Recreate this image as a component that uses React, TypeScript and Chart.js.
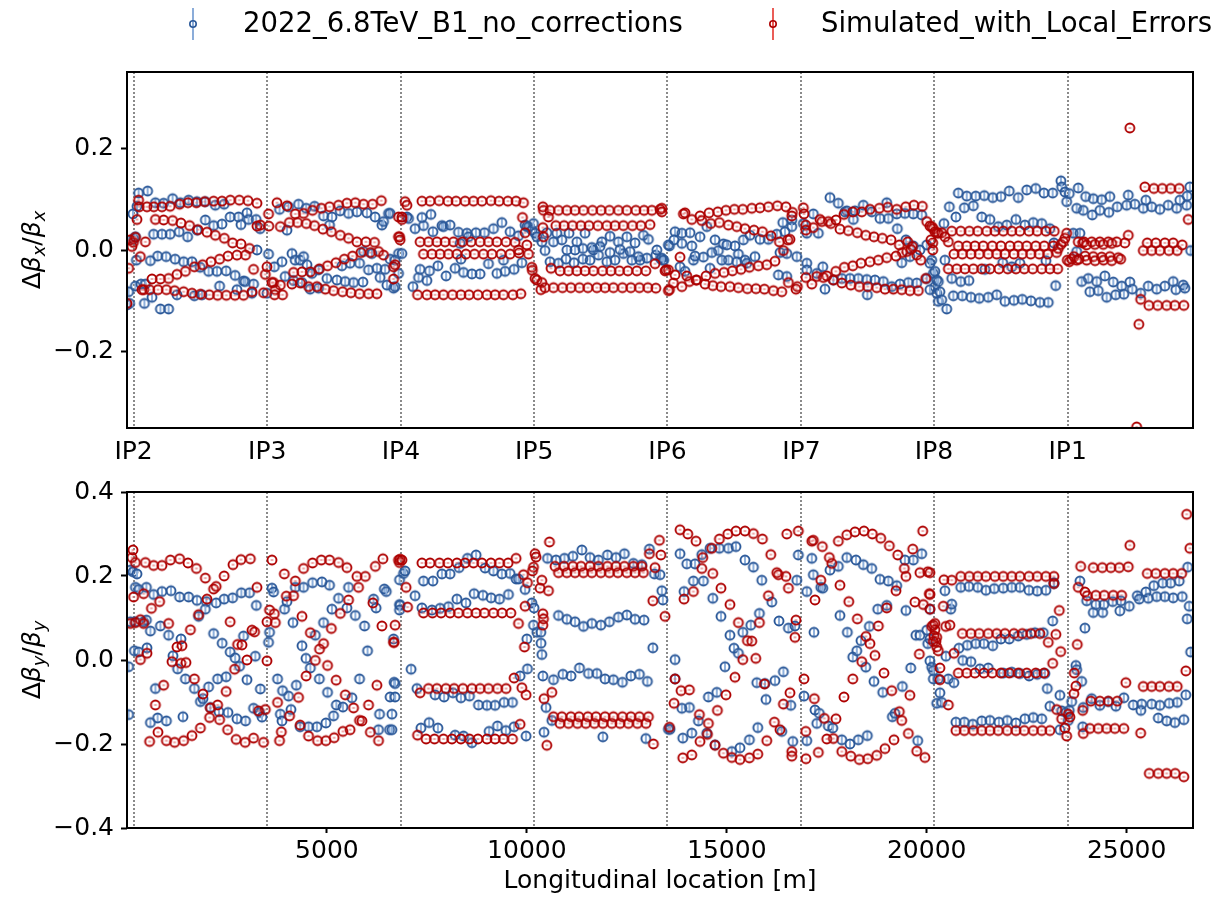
import React, { useEffect, useRef } from 'react';
import { Chart, registerables } from 'chart.js';
Chart.register(...registerables);

const FONT = "'DejaVu Sans', sans-serif";
const RING_LENGTH = 26659;
const IP_POSITIONS = [165, 3507, 6850, 10183, 13516, 16866, 20182, 23524];
const IP_LABELS = ['IP2', 'IP3', 'IP4', 'IP5', 'IP6', 'IP7', 'IP8', 'IP1'];
const X_TICKS = [5000, 10000, 15000, 20000, 25000];
const TOP_Y_TICKS = [-0.2, 0, 0.2];
const BOTTOM_Y_TICKS = [-0.4, -0.2, 0, 0.2, 0.4];
const SERIES_NAMES = ['2022_6.8TeV_B1_no_corrections', 'Simulated_with_Local_Errors'];
const X_TITLE = 'Longitudinal location [m]';

// Δβx/βx : measurement
const TOP_MEAS: number[][] = [
  [0,-0.108],[40,-0.082],[65,-0.105],[150,0.071],[165,0.022],[210,0.026],[250,0.086],[290,0.112],[515,0.116],[235,-0.020],[210,-0.071],[350,-0.067],[460,-0.067],[435,-0.105],[625,-0.093],[835,-0.116],[1040,-0.116],
  [710,0.093],[915,0.092],[1140,0.101],[1335,0.093],[1540,0.098],[1750,0.095],[1960,0.095],[2210,0.088],[2430,0.090],
  [665,0.031],[875,0.031],[1080,0.031],[1305,0.036],[1515,0.026],[1750,0.039],[1960,0.059],[2165,0.048],[2375,0.051],[2580,0.065],[2790,0.065],[3000,0.073],[2850,0.050],[3040,0.060],[3230,0.060],[3330,0.042],
  [585,-0.021],[765,-0.012],[980,-0.013],[1205,-0.018],[1415,-0.023],[1625,-0.023],[1830,-0.034],[2040,-0.042],[2250,-0.042],[2480,-0.041],[2705,-0.050],[2915,-0.061],[2955,-0.062],[3165,-0.067],[3250,0.000],
  [2315,-0.071],[2750,-0.078],[3125,-0.085],[3500,-0.085],[1250,-0.088],[1685,-0.090],[1875,-0.088],
  [3540,-0.008],[3685,-0.033],[3815,0.080],[4000,0.039],[3875,-0.023],[3955,-0.052],[4040,0.085],[4125,-0.007],[4205,-0.020],[4330,-0.020],[4415,-0.013],[4500,-0.029],[4290,0.090],[4480,0.082],[4690,0.086],[4915,0.067],[5125,0.065],[5065,0.049],[5330,0.077],[5540,0.072],[5750,0.075],[6000,0.073],[6205,0.065],[6375,0.049],[6415,0.056],[6540,0.072],
  [4625,-0.046],[4790,-0.039],[5000,-0.056],[5250,-0.059],[5455,-0.062],[5665,-0.064],[5900,-0.063],[4165,-0.060],[4375,-0.064],[4580,-0.077],[4790,-0.075],[5375,-0.031],[5580,-0.026],[5815,-0.026],[6040,-0.039],[6250,-0.036],[6455,-0.038],[5915,-0.003],[6125,-0.007],[6330,-0.054],[6500,-0.069],[6665,-0.075],[6580,-0.018],[6705,-0.020],[6790,-0.007],
  [6580,0.072],[6875,-0.007],[6790,-0.046],[6705,-0.072],[7000,0.065],[7040,0.062],
  [7205,0.042],[7415,0.048],[7375,0.064],[7600,0.070],[7650,0.036],[7875,0.048],[8080,0.049],[8290,0.035],[8500,0.033],[8725,0.034],[8940,0.034],[9165,0.042],[9375,0.054],[9580,0.036],[9790,0.028],[10000,0.046],[7915,0.046],[8330,0.013],[8540,0.026],
  [7150,-0.072],[7290,-0.054],[7330,-0.038],[7500,-0.060],[7565,-0.041],[7775,-0.031],[7980,-0.051],[8205,-0.036],[8350,-0.018],[8415,-0.044],[8625,-0.047],[8830,-0.047],[9040,-0.027],[9250,-0.046],[9455,-0.042],[9680,-0.038],[9875,-0.025],[9415,-0.020],
  [9955,0.049],[10040,0.046],[10125,0.039],[10205,0.033],[10250,0.026],[10165,0.052],[10455,-0.001],[10375,0.016],
  [10500,0.034],[10665,0.016],[10875,0.020],[11055,0.033],[11250,0.016],[11455,0.033],[11665,0.000],[11875,0.016],[12080,0.027],[12290,0.016],[12500,0.026],[12705,0.014],[12915,0.029],[13040,0.021],
  [10580,-0.023],[10790,-0.026],[10980,-0.018],[11180,-0.025],[11400,-0.018],[11580,-0.020],[11790,-0.010],[12000,-0.023],[12205,-0.020],[12415,-0.007],[12625,-0.020],[12830,-0.020],[13225,-0.010],[13350,-0.018],[13415,-0.020],[13565,0.008],
  [11000,0.000],[11205,0.000],[11400,0.003],[11625,0.005],[11830,0.007],[12080,-0.005],[12330,0.001],[12580,-0.003],[12790,-0.013],[13000,-0.016],[13250,0.000],[10750,0.033],
  [13375,-0.016],[13415,-0.020],[13540,0.010],[13705,0.036],[13875,0.033],[14080,0.034],[13680,0.020],[13875,0.013],[14125,0.008],[14330,0.026],[14500,0.046],[13830,-0.033],[13955,-0.042],[14165,-0.020],[14205,-0.012],[14415,-0.014],[14580,-0.036],[14705,0.020],[14625,-0.005],[14790,-0.001],[14915,0.012],[15000,0.010],[14875,-0.020],[15040,-0.020],[15205,0.008],[15290,-0.008],[15250,-0.023],[15415,0.020],[15455,-0.020],[15580,0.029],[15705,-0.013],[15830,0.021],[16040,0.021],[16250,0.031],[16400,0.054],[16455,0.036],[16625,0.059],[16625,0.046],[16500,-0.007],[16330,-0.005],[16290,-0.049],[16500,-0.052],[15500,-0.026],[16750,-0.013],
  [16915,0.052],[17000,0.033],[17000,-0.026],[17000,-0.039],[17165,0.071],[17290,0.033],[17400,-0.033],[17455,-0.077],[17250,-0.046],[17580,0.103],[17790,0.092],[17955,0.075],[18165,0.060],[18000,0.077],[18205,0.077],[18415,0.088],[18625,0.075],[18830,0.062],[19000,0.093],[19040,0.062],[19250,0.071],[19455,0.072],[19665,0.071],[19875,0.069],[19265,0.042],[19480,0.020],[19580,-0.013],[19665,0.008],[19375,-0.025],[19830,0.000],[20000,0.010],
  [17665,-0.059],[17875,-0.056],[18080,-0.056],[18290,-0.056],[18500,-0.058],[18705,-0.059],[18915,-0.062],[19125,-0.072],[19330,-0.067],[19540,-0.064],[19750,-0.065],[18515,-0.088],[20125,-0.020],[20165,-0.046],[20205,-0.072],[20250,-0.085],[20290,-0.101],[20000,-0.056],[20080,-0.078],
  [20080,-0.026],[20250,-0.059],[20330,-0.082],[20375,-0.098],[20500,-0.116],[20455,-0.020],[20205,-0.042],[20290,-0.062],[20430,0.052],
  [20565,0.085],[20730,0.065],[20790,0.112],[20940,0.083],[21000,0.106],[21165,0.087],[21225,0.106],[21440,0.107],[21650,0.103],[21855,0.105],[22065,0.116],[22290,0.103],[22500,0.118],[22725,0.121],[22930,0.112],[23150,0.112],[23355,0.136],[23375,0.124],[23455,0.114],[23500,0.095],[23565,0.111],[23790,0.122],[23750,0.082],[23915,0.078],[23975,0.105],[24165,0.101],[24140,0.069],[24375,0.099],[24330,0.078],[24580,0.105],[24555,0.074],[24765,0.085],[25040,0.108],[25000,0.088],[25205,0.090],[25415,0.082],[25480,0.098],[25625,0.085],[25830,0.080],[26040,0.088],[26250,0.082],[26330,0.098],[26500,0.088],[26580,0.124],[26515,0.106],
  [21375,0.065],[21580,0.060],[21790,0.046],[22000,0.049],[22230,0.060],[22455,0.049],[22665,0.054],[22875,0.052],[23080,0.042],[23180,0.014],[23665,0.033],[23830,0.033],[23750,-0.003],[21900,-0.025],[22125,-0.033],[22330,-0.026],[21455,-0.038],[22980,-0.021],
  [20625,-0.056],[20850,-0.062],[21055,-0.060],[20665,-0.090],[20890,-0.090],[21105,-0.093],[21315,-0.095],[21540,-0.093],[21750,-0.088],[21955,-0.101],[22180,-0.099],[22390,-0.097],[22605,-0.100],[22830,-0.103],[23040,-0.103],[23225,-0.070],
  [23875,-0.062],[24040,-0.056],[24080,-0.082],[24250,-0.062],[24290,-0.080],[24455,-0.051],[24500,-0.093],[24665,-0.063],[24725,-0.088],[24875,-0.071],[24930,-0.087],[25080,-0.063],[25140,-0.077],[25350,-0.085],[25540,-0.071],[25750,-0.077],[25955,-0.071],[26165,-0.062],[26230,-0.078],[26415,-0.069],[26455,-0.075],[26600,-0.001],
];

// Δβx/βx : simulation
const TOP_SIM: number[][] = [
  [0,-0.105],[40,-0.036],[80,0.020],[125,0.007],[160,0.015],[210,0.025],[250,0.060],[290,0.098],[305,0.085],[333,-0.013],[375,-0.078],[420,-0.078],[460,0.016],
  [500,0.085],[670,0.085],[875,0.085],[1080,0.086],[1315,0.090],[1525,0.093],[1735,0.093],[1940,0.095],[2165,0.096],[2375,0.096],[2585,0.098],[2810,0.098],[3025,0.097],[3250,0.092],
  [710,0.060],[915,0.059],[1140,0.058],[1350,0.053],[1565,0.048],[1775,0.040],[2000,0.035],[2210,0.029],[2435,0.023],[2640,0.014],[2850,0.012],[3065,0.003],
  [625,-0.057],[835,-0.057],[1040,-0.056],[1250,-0.048],[1460,-0.042],[1685,-0.033],[1890,-0.029],[2100,-0.023],[2315,-0.018],[2525,-0.012],[2750,-0.010],[2965,-0.010],
  [565,-0.078],[775,-0.078],[985,-0.078],[1190,-0.080],[1415,-0.082],[1625,-0.085],[1835,-0.087],[2060,-0.088],[2265,-0.089],[2485,-0.089],[2700,-0.089],[2915,-0.089],[3125,-0.082],[3415,-0.084],
  [3165,-0.038],[3250,0.047],[3335,0.049],[3540,0.071],[3500,-0.033],[3460,-0.048],[3545,0.047],[3665,-0.064],[3710,-0.078],[3690,-0.088],[3890,-0.088],
  [3750,0.093],[4000,0.087],[4210,0.071],[4415,0.072],[4640,0.078],[4860,0.082],[5065,0.085],[5290,0.088],[5500,0.092],[5710,0.093],[5915,0.090],[6140,0.090],[6360,0.097],
  [3835,0.046],[4060,0.054],[4265,0.054],[4485,0.052],[4690,0.048],[4900,0.041],[5110,0.036],[5335,0.029],[5540,0.023],[5750,0.016],[5975,0.016],[6190,0.015],[6415,-0.010],
  [4165,-0.044],[4375,-0.043],[4585,-0.043],[4810,-0.037],[5015,-0.031],[5225,-0.025],[5435,-0.018],[5640,-0.012],[5850,-0.005],[6085,-0.005],[6290,-0.003],
  [3625,-0.064],[3835,-0.069],[4125,-0.067],[4335,-0.065],[4540,-0.072],[4750,-0.072],[4960,-0.077],[5165,-0.080],[5390,-0.082],[5600,-0.084],[5815,-0.086],[6040,-0.086],[6250,-0.086],
  [6665,-0.033],[6665,-0.057],[6790,0.065],[6790,0.026],[6955,0.095],[7000,0.088],[6875,0.065],[6875,0.060],[6815,0.026],[6830,0.020],[6705,-0.029],
  [7375,0.096],[7580,0.096],[7805,0.097],[8025,0.096],[8230,0.096],[8455,0.096],[8665,0.096],[8875,0.096],[9100,0.097],[9305,0.096],[9525,0.096],[9730,0.096],[9915,0.093],
  [7330,0.016],[7540,0.016],[7750,0.016],[7955,0.016],[8165,0.016],[8390,0.016],[8605,0.016],[8830,0.016],[9040,0.016],[9250,0.016],[9480,0.016],[9705,0.015],
  [7415,-0.008],[7625,-0.008],[7830,-0.008],[8040,-0.008],[8250,-0.008],[8475,-0.008],[8690,-0.008],[8915,-0.008],[9125,-0.008],[9355,-0.008],[9580,-0.008],[9805,-0.006],
  [7265,-0.088],[7500,-0.088],[7705,-0.088],[7915,-0.088],[8140,-0.088],[8350,-0.088],[8555,-0.088],[8775,-0.088],[9000,-0.088],[9205,-0.088],[9415,-0.088],[9650,-0.088],[9850,-0.086],
  [9890,0.064],[9955,0.034],[10000,0.010],[10040,-0.008],[9790,0.000],[10125,-0.034],[10135,-0.040],[10205,-0.056],[10250,-0.059],[10375,-0.064],[10350,-0.078],[10400,0.044],[10415,0.026],[10400,0.085],[10415,0.078],[10540,0.065],[10605,-0.036],
  [10580,0.078],[10790,0.078],[11000,0.078],[11205,0.078],[11415,0.078],[11640,0.078],[11855,0.078],[12065,0.078],[12290,0.078],[12500,0.078],[12725,0.078],[12930,0.078],[13125,0.078],[13330,0.080],
  [10725,0.048],[10930,0.048],[11140,0.048],[11350,0.048],[11555,0.048],[11775,0.048],[12000,0.048],[12205,0.048],[12415,0.048],[12640,0.048],[12850,0.048],[13080,0.050],
  [10830,-0.041],[11040,-0.041],[11250,-0.041],[11455,-0.041],[11665,-0.041],[11890,-0.041],[12100,-0.041],[12315,-0.041],[12525,-0.041],[12750,-0.041],[12975,-0.041],[13205,-0.027],[13480,-0.039],
  [10455,-0.074],[10665,-0.074],[10890,-0.074],[11100,-0.074],[11315,-0.074],[11525,-0.074],[11750,-0.074],[11955,-0.074],[12165,-0.074],[12390,-0.074],[12600,-0.074],[12815,-0.074],[13025,-0.074],[13225,-0.075],[13540,-0.080],
  [13375,0.082],[13375,0.075],[13455,-0.041],[13565,-0.078],[13830,-0.014],[13705,-0.049],
  [13915,0.071],[13955,0.073],[14125,0.060],[14330,0.067],[14555,0.073],[14775,0.075],[14980,0.078],[15190,0.080],[15400,0.080],[15625,0.082],[15830,0.083],[16040,0.085],[16265,0.087],[16480,0.085],[16640,0.074],[16625,0.067],
  [14375,0.058],[14600,0.052],[14815,0.054],[15040,0.049],[15250,0.046],[15455,0.042],[15680,0.039],[15890,0.036],[16105,0.028],[16315,0.016],[16525,0.020],[16580,0.021],[16415,-0.001],[16205,-0.022],
  [14000,-0.051],[14250,-0.059],[14480,-0.051],[14705,-0.046],[14930,-0.044],[15140,-0.041],[15355,-0.038],[15565,-0.034],[15790,-0.031],[16000,-0.029],[13540,-0.039],
  [13665,-0.065],[13875,-0.072],[14065,-0.062],[14230,-0.059],[14455,-0.067],[14650,-0.070],[14855,-0.072],[15080,-0.072],[15290,-0.074],[15515,-0.076],[15730,-0.076],[15940,-0.077],[16165,-0.080],[16375,-0.082],[16540,-0.064],[16730,-0.077],[16765,-0.072],
  [16915,0.083],[16930,0.071],[16975,0.049],[16975,0.039],[17165,0.044],[17330,0.060],[17540,0.056],[17730,0.059],[17930,0.070],[18150,0.075],[18375,0.075],[18580,0.080],[18815,0.082],[19025,0.084],[19250,0.080],[19475,0.085],[19680,0.088],[19890,0.086],[20000,0.056],[20080,0.047],[20165,0.042],[20250,0.034],
  [17375,0.056],[17600,0.052],[17830,0.041],[18040,0.038],[18265,0.034],[18475,0.029],[18680,0.026],[18890,0.023],[19105,0.020],[19315,0.010],[19525,0.016],[19640,0.007],[19750,-0.010],[19850,-0.020],[19975,-0.056],
  [17250,-0.052],[17500,-0.051],[17725,-0.042],[17940,-0.034],[18150,-0.031],[18355,-0.026],[18580,-0.023],[18790,-0.020],[19000,-0.015],[19230,-0.012],[19390,-0.005],[19500,-0.003],[19605,0.001],
  [16980,-0.054],[17125,-0.067],[17415,-0.054],[17665,-0.059],[17875,-0.065],[18100,-0.069],[18315,-0.072],[18525,-0.072],[18750,-0.074],[18955,-0.077],[19165,-0.077],[19375,-0.078],[19580,-0.080],[19790,-0.080],
  [20125,0.046],[20205,0.036],[20290,0.033],[20375,0.034],[20455,0.026],[20540,0.016],[20150,0.014],[20150,0.000],[20105,0.020],
  [20625,0.037],[20850,0.037],[21065,0.037],[21275,0.037],[21500,0.037],[21705,0.037],[21915,0.037],[22125,0.037],[22330,0.037],[22555,0.037],[22765,0.037],[22980,0.037],[23190,0.037],
  [20790,0.008],[21000,0.008],[21205,0.008],[21415,0.008],[21640,0.008],[21855,0.008],[22080,0.008],[22290,0.008],[22500,0.008],[22725,0.008],[22940,0.008],[23165,0.008],
  [20680,-0.008],[20890,-0.008],[21105,-0.008],[21315,-0.008],[21540,-0.008],[21750,-0.008],[21955,-0.008],[22180,-0.008],[22390,-0.008],[22600,-0.008],[22815,-0.008],[23025,-0.008],
  [20540,-0.037],[20750,-0.037],[20955,-0.037],[21165,-0.037],[21375,-0.037],[21580,-0.037],[21805,-0.037],[22025,-0.037],[22230,-0.037],[22440,-0.037],[22650,-0.037],[22875,-0.037],[23080,-0.037],[23275,-0.037],
  [23250,-0.005],[23290,0.003],[23355,0.011],[23415,0.016],[23455,0.023],[23500,0.033],[23515,-0.020],[23565,-0.023],[23625,-0.018],[23680,-0.013],[23750,-0.020],[23790,0.016],[23900,0.014],
  [23930,0.016],[24125,0.016],[24330,0.016],[24540,0.016],[24750,0.016],[24955,0.014],[25040,0.029],
  [23995,0.010],[24205,0.011],[24415,0.011],[24625,0.013],
  [23960,-0.012],[24165,-0.013],[24375,-0.014],[24580,-0.013],[24790,-0.015],
  [23805,-0.018],[24000,-0.020],[24210,-0.021],[24420,-0.020],[24625,-0.021],[24850,-0.018],
  [25515,0.014],[25730,0.014],[25955,0.014],[26165,0.014],[26390,0.010],
  [25415,-0.001],[25625,-0.001],[25830,-0.001],[26055,-0.001],[26265,-0.001],
  [25455,0.124],[25680,0.121],[25890,0.121],[26100,0.121],[26315,0.121],
  [25555,-0.109],[25775,-0.109],[26000,-0.109],[26205,-0.109],[26430,-0.109],
  [25080,0.240],[25305,-0.146],[25250,-0.348],[25350,-0.097],[26540,0.060],
];

// Δβy/βy : measurement
const BOTTOM_MEAS: number[][] = [
  [85,0.214],[150,0.210],[250,0.205],[210,0.173],[290,0.168],[485,0.173],[210,0.091],[85,0.091],[415,0.091],[485,0.095],[185,0.022],[290,0.019],[500,0.029],[40,-0.016],[40,-0.130],[585,0.069],[710,-0.068],[585,-0.149],[765,-0.138],[985,-0.145],[835,0.081],
  [665,0.156],[875,0.163],[1100,0.165],[1315,0.150],[1540,0.150],[1750,0.142],[1985,0.139],[2230,0.136],[2430,0.145],[2640,0.148],[2860,0.160],[3065,0.160],[3235,0.130],[1960,0.121],[1790,0.104],
  [1040,0.059],[1150,0.010],[1265,-0.021],[1350,0.050],[1460,-0.045],[1685,-0.068],[1835,-0.099],[1900,-0.092],[2040,-0.064],[2265,-0.045],[2480,-0.040],[2165,0.063],[2380,0.040],[2580,0.019],[2705,0.005],[2815,-0.015],[2915,0.057],[3000,-0.047],[3210,0.009],[3335,-0.069],
  [1400,-0.135],[2085,-0.113],[2300,-0.123],[2525,-0.125],[2750,-0.140],[2965,-0.145],[3165,-0.115],[3315,-0.125],[3375,-0.136],
  [3625,0.171],[3665,0.162],[3565,0.066],[3540,0.042],[3765,-0.045],[3890,-0.073],[3835,-0.129],[3875,-0.145],[4040,-0.086],[4100,-0.118],[3940,0.121],[4000,0.139],[4150,0.089],[4210,0.173],[4235,-0.060],[4375,0.034],[4330,-0.159],[4415,0.173],[4475,0.004],[4585,-0.019],[4540,-0.159],[4640,0.184],[4710,0.059],[4750,-0.159],[4810,-0.045],[4875,0.186],[4915,0.089],[4975,-0.150],[5065,0.178],[5015,-0.077],[5165,-0.133],[5235,-0.107],[5125,0.121],[5290,0.147],[5400,-0.112],[5500,0.124],[5540,0.173],[5625,-0.090],[5710,0.106],[5815,-0.045],[5940,0.081],[6015,0.022],[6165,0.145],[6230,0.124],[6290,-0.166],[6565,-0.166],[6435,0.169],[6485,0.163],[6315,-0.129],[6580,-0.088],[6680,-0.053],[6665,0.050],[6815,0.191],[6815,0.132],
  [6915,0.206],[6955,0.212],[6830,0.130],[6815,0.119],[7205,0.153],[7105,-0.022],[6705,-0.056],[6705,-0.088],[6625,-0.129],[6625,-0.166],
  [7415,0.188],[7650,0.188],[7875,0.205],[8080,0.205],[8305,0.220],[8515,0.242],[8730,0.250],[8955,0.219],[9165,0.212],[9375,0.205],[9580,0.206],[9730,0.193],[9790,0.193],[9955,0.168],
  [7375,0.124],[7625,0.119],[7830,0.123],[8040,0.127],[8250,0.145],[8475,0.136],[8680,0.158],[8900,0.154],[9105,0.148],[9315,0.145],[9540,0.156],
  [7250,-0.068],[7705,-0.083],[7930,-0.088],[8150,-0.078],[8350,-0.090],[8565,-0.086],[8790,-0.107],[9000,-0.108],[9205,-0.108],[9430,-0.101],[9640,-0.101],[9830,-0.038],[10015,-0.021],[10000,0.050],
  [7350,-0.162],[7555,-0.149],[7775,-0.162],[8205,-0.179],[8415,-0.181],[8625,-0.197],[9055,-0.170],[9265,-0.157],[9475,-0.168],[9680,-0.159],[9980,-0.181],
  [10125,0.136],[10180,0.124],[10165,0.083],[10250,0.066],[10350,0.066],[10355,0.040],[10375,0.013],[10400,-0.038],[10665,-0.047],[10480,-0.113],[10430,-0.172],[10625,-0.144],
  [10515,0.242],[10730,0.238],[10940,0.242],[11150,0.247],[11375,0.262],[11580,0.244],[11790,0.238],[12015,0.250],[12230,0.244],[12440,0.253],[12665,0.230],[12875,0.227],
  [10790,0.106],[11000,0.097],[11205,0.091],[11415,0.080],[11625,0.087],[11850,0.083],[12065,0.091],[12290,0.102],[12500,0.107],[12705,0.097],[12930,0.095],
  [10900,-0.034],[11105,-0.038],[11315,-0.019],[11540,-0.032],[11750,-0.032],[11955,-0.045],[12165,-0.047],[12390,-0.053],[12600,-0.038],[12815,-0.034],[13015,-0.051],
  [11900,-0.183],[12975,-0.187],
  [13150,0.029],[13190,0.205],[13330,0.203],[13375,0.165],[13400,0.143],[13065,0.264],[13540,-0.165],
  [13580,-0.165],[13705,0.001],[13705,-0.045],[13830,0.253],[14000,0.229],[14205,0.229],[14165,0.188],[14415,0.188],[14375,0.251],[14580,0.266],[14815,0.266],[15040,0.266],[15230,0.270],[15455,0.238],[15665,0.221],[15875,0.190],[16125,0.138],[16305,0.093],[16540,0.076],[16705,0.081],[16790,0.250],[16750,0.190],[13930,0.163],[14650,0.147],[14855,0.104],[15080,0.059],[15180,0.028],[15290,0.016],[15400,0.066],[15600,0.083],[15815,0.111],[14955,-0.016],
  [14065,-0.113],[13875,-0.115],[14290,-0.145],[14125,-0.174],[13900,-0.186],[14540,-0.088],[14750,-0.077],[14500,-0.174],[14705,-0.202],[15125,-0.218],[15330,-0.209],[15565,-0.190],[15775,-0.161],[15980,-0.094],[15750,-0.054],[15955,-0.056],[16205,-0.049],[16415,-0.028],[16375,-0.170],[16600,-0.108],[16650,-0.194],
  [16930,-0.086],[17000,-0.192],[17000,0.163],[17125,0.242],[17165,0.203],[17350,0.173],[17400,0.171],[17580,0.214],[17790,0.223],[18000,0.244],[18230,0.238],[18415,0.227],[18625,0.218],[18830,0.192],[19040,0.188],[19250,0.177],[19455,0.238],[19665,0.238],[19875,0.253],
  [17180,0.066],[17205,-0.119],[17250,-0.151],[17315,-0.127],[17540,-0.157],[17650,-0.162],[17875,-0.190],[18080,-0.200],[18290,-0.190],[18515,-0.180],[17830,0.106],[18015,0.066],[18150,0.007],[18250,0.022],[18355,0.046],[18475,-0.017],[18565,0.080],[18680,-0.051],[18775,0.121],[18900,-0.077],[19000,0.130],[19140,-0.135],[19205,-0.127],[19390,-0.063],[19480,0.118],[19600,-0.019],[19730,0.059],[19775,-0.192],[19830,0.059],[20000,0.071],[20025,0.039],[20080,-0.002],[20125,-0.017],[20165,-0.045],[20250,-0.103],
  [20080,0.121],[20080,0.050],[20165,-0.025],[20290,-0.045],[20330,-0.078],[20375,-0.101],[20455,0.165],[20480,0.009],[20540,-0.045],[20600,0.121],[20625,0.133],[20680,-0.054],[20900,-0.001],[21105,-0.004],[21330,-0.021],[21540,-0.019],
  [20850,0.173],[21055,0.175],[21275,0.173],[21480,0.166],[21690,0.170],[21915,0.171],[22125,0.173],[22330,0.173],[22555,0.166],[22765,0.164],[22980,0.166],[23180,0.182],
  [20805,0.028],[21015,0.035],[21225,0.039],[21430,0.039],[21650,0.034],[21855,0.050],[22065,0.050],[22290,0.057],[22500,0.061],[22705,0.065],[22915,0.065],
  [21915,-0.031],[22125,-0.029],[22330,-0.032],[22560,-0.038],[22765,-0.034],[22955,-0.032],
  [20730,-0.148],[20940,-0.148],[21150,-0.153],[21375,-0.145],[21580,-0.144],[21805,-0.148],[22015,-0.144],[22230,-0.150],[22455,-0.140],[22665,-0.137],[22875,-0.140],
  [23015,-0.068],[23080,-0.110],[23150,0.093],[23180,0.184],[23330,-0.084],[23330,-0.166],[23375,-0.121],[23480,-0.125],[23540,-0.144],[23565,-0.120],[23625,-0.099],[23730,-0.013],[23750,-0.023],[23875,-0.051],[23900,-0.159],[23955,0.076],[23830,0.188],[24000,0.141],[24165,0.113],[24230,0.132],[24400,0.113],[24430,0.132],[24650,0.139],[24830,0.117],[24855,0.141],[25065,0.128],[25265,0.153],[25480,0.162],[25315,0.145],[25540,0.147],[25680,0.177],[25750,0.151],[25900,0.183],[25955,0.151],[26100,0.183],[26165,0.148],[26315,0.188],[26390,0.151],[26525,0.221],[26565,0.128],[26515,0.098],[26600,0.019],
  [24125,-0.092],[24330,-0.108],[24540,-0.099],[24730,-0.110],[24930,-0.090],[25165,-0.107],[25375,-0.105],[25625,-0.105],[25830,-0.108],[26065,-0.103],[26265,-0.101],[26480,-0.083],[23915,-0.113],[25355,-0.120],[25790,-0.138],[26000,-0.145],[26205,-0.149],[26430,-0.142],
];

// Δβy/βy : simulation
const BOTTOM_SIM: number[][] = [
  [150,0.262],[125,0.244],[210,0.232],[165,0.150],[85,0.087],[210,0.089],[335,0.096],[335,0.001],[415,0.158],[500,0.016],[415,0.087],
  [460,0.232],[665,0.225],[875,0.225],[1085,0.238],[1315,0.241],[1525,0.231],[1735,0.218],[1960,0.195],[2000,0.145],[2165,0.169],[2230,0.175],[2430,0.200],[2650,0.227],[2850,0.239],[3085,0.241],[3250,0.173],
  [610,0.123],[815,0.139],[1040,0.087],[1250,0.031],[1375,0.034],[1125,-0.004],[1350,-0.008],[1475,-0.006],[1585,0.072],[1790,0.108],
  [710,-0.107],[915,-0.060],[775,-0.172],[565,-0.194],[985,-0.192],[1190,-0.196],[1415,-0.192],[1625,-0.180],[1835,-0.162],[1685,-0.045],[1900,-0.081],[2085,-0.114],[2265,-0.107],[2065,-0.137],[2315,-0.142],[2515,-0.166],[2730,-0.189],[2955,-0.196],[3165,-0.186],[3415,-0.196],[2480,-0.075],[2690,-0.022],[2765,0.037],[2875,0.036],[3000,0.000],[2580,0.091],[3125,0.071],[3190,0.067],[3290,-0.121],[3460,-0.118],[3500,-0.002],
  [3625,0.238],[3500,0.091],[3565,0.119],[3685,0.110],[3710,0.089],[3765,-0.101],[3860,-0.171],[3815,-0.192],[3935,0.205],[3985,0.152],[4065,-0.133],[4165,0.153],[4210,0.188],[4290,-0.089],[4375,0.104],[4330,-0.155],[4415,0.218],[4480,-0.038],[4585,0.065],[4540,-0.181],[4640,0.231],[4710,-0.001],[4765,-0.192],[4815,0.026],[4915,0.039],[4860,0.238],[4975,-0.192],[5015,-0.013],[5065,0.238],[5110,0.075],[5180,-0.185],[5230,-0.048],[5290,0.232],[5335,0.111],[5400,-0.170],[5460,-0.083],[5500,0.220],[5540,0.143],[5580,-0.166],[5665,-0.114],[5750,0.199],[5815,-0.144],[5790,0.173],[5875,-0.145],[5960,0.199],[6040,-0.107],[6085,-0.172],[6150,0.136],[6210,0.223],[6250,-0.060],[6290,-0.192],[6400,0.241],[6375,0.081],[6665,0.042],[6815,0.232],
  [6790,0.238],[6830,0.240],[6875,0.238],[6705,0.083],[6680,0.042],[6980,0.173],[7015,0.126],
  [7375,0.231],[7580,0.231],[7815,0.231],[8025,0.231],[8250,0.231],[8455,0.231],[8665,0.231],[8875,0.231],[9100,0.231],[9315,0.231],[9530,0.231],[9730,0.242],
  [7415,0.112],[7640,0.112],[7855,0.112],[8080,0.112],[8290,0.112],[8515,0.112],[8730,0.112],[8940,0.112],[9165,0.112],[9380,0.112],[9600,0.112],
  [7330,-0.078],[7540,-0.068],[7750,-0.068],[7975,-0.068],[8180,-0.068],[8400,-0.068],[8625,-0.068],[8830,-0.068],[9040,-0.068],[9265,-0.068],[9480,-0.068],
  [7265,-0.179],[7480,-0.188],[7690,-0.188],[7915,-0.188],[8125,-0.188],[8350,-0.188],[8565,-0.188],[8775,-0.188],[9000,-0.188],[9205,-0.188],[9415,-0.188],[9640,-0.188],
  [9915,0.203],[10015,0.184],[9790,0.087],[9955,0.128],[9940,0.031],[9680,-0.043],[9875,-0.066],[9980,-0.083],[9830,-0.153],[10205,0.253],[10230,0.245],[10165,0.221],[10140,0.212],[10375,0.190],[10330,0.171],[10400,0.110],[10415,0.098],[10400,0.083],[10540,0.165],[10565,0.281],[10430,-0.092],[10625,-0.077],[10500,-0.203],
  [10705,0.223],[10930,0.223],[11150,0.223],[11355,0.223],[11580,0.223],[11790,0.223],[12015,0.223],[12230,0.223],[12440,0.223],[12665,0.223],[12875,0.223],
  [10790,0.208],[11000,0.208],[11205,0.208],[11415,0.208],[11625,0.208],[11850,0.208],[12065,0.208],[12275,0.208],[12500,0.208],[12705,0.208],[12915,0.208],
  [10665,-0.135],[10875,-0.135],[11100,-0.135],[11305,-0.135],[11525,-0.135],[11730,-0.135],[11955,-0.135],[12165,-0.135],[12390,-0.135],[12600,-0.135],[12815,-0.135],[13040,-0.135],
  [10830,-0.151],[11040,-0.151],[11265,-0.151],[11475,-0.151],[11690,-0.151],[11900,-0.151],[12125,-0.151],[12330,-0.151],[12540,-0.151],[12765,-0.151],[12980,-0.151],
  [13165,-0.200],[13150,0.141],[13205,0.220],[13315,0.285],[13350,0.250],[13065,0.253],[13455,0.104],
  [13830,0.310],[14025,0.300],[14230,0.283],[13930,0.145],[14165,0.163],[14400,0.244],[14375,0.218],[14625,0.266],[14650,0.206],[14855,0.171],[14815,0.288],[15025,0.300],[15230,0.307],[15455,0.307],[15665,0.301],[15890,0.288],[16100,0.251],[16040,0.153],[16250,0.208],[16290,0.203],[16480,0.199],[16540,0.171],[16500,0.300],[16790,0.307],[16730,0.095],[16705,0.054],[15080,0.132],[15290,0.089],[15515,0.046],[15625,0.045],[15400,0.001],[15725,0.004],[15205,-0.041],[15815,0.089],[15940,-0.057],[16190,-0.148],[16415,-0.105],[16580,-0.078],[16625,-0.218],[16625,-0.229],[16330,-0.166],
  [13705,-0.045],[13855,-0.073],[14065,-0.071],[13680,-0.103],[13565,-0.160],[14315,-0.130],[14540,-0.151],[14330,-0.194],[14765,-0.120],[14705,-0.203],[14515,-0.177],[13900,-0.233],[14125,-0.226],[14915,-0.222],[15125,-0.232],[15330,-0.237],[15565,-0.233],[15775,-0.224],[16000,-0.192],[14980,-0.083],
  [16930,-0.045],[16975,-0.170],[16980,-0.235],[17125,0.283],[17165,0.285],[17390,0.270],[17565,0.244],[17625,0.230],[17350,0.190],[17205,0.143],[17190,-0.092],[17440,-0.139],[17500,-0.188],[17665,-0.187],[17730,-0.140],[17290,-0.220],
  [17790,0.283],[18000,0.298],[18205,0.305],[18430,0.307],[18640,0.300],[18850,0.290],[19065,0.272],[19275,0.250],[19440,0.218],[19480,0.199],[17830,0.178],[18050,0.139],[18265,0.098],[18480,0.056],[18375,-0.004],[18580,0.039],[18705,0.011],[17930,-0.088],[18150,-0.045],[18930,-0.031],[19125,-0.073],[19315,-0.123],[19375,-0.144],[19540,-0.175],[19750,-0.217],[19955,-0.232],
  [17875,-0.218],[18100,-0.229],[18315,-0.237],[18525,-0.235],[18750,-0.227],[18955,-0.211],[19180,-0.190],[18790,0.081],[19000,0.124],[19230,0.165],[19580,-0.084],[19815,0.014],[19705,0.138],[19915,0.132],[19830,0.208],[20025,0.210],[19650,0.264],[19900,0.307],[20065,0.158],[20165,0.083],[20205,0.072],[20180,0.057],[20230,0.044],[20250,0.031],
  [20080,0.208],[20080,0.156],[20080,0.121],[20125,0.080],[20205,0.087],[20250,0.054],[20165,0.044],[20290,0.022],[20330,-0.019],[20330,-0.047],[20540,-0.107],[20430,0.191],[20625,0.190],[20415,0.128],[20475,0.080],[20580,0.083],[20680,0.016],
  [20850,0.199],[21065,0.199],[21275,0.199],[21480,0.199],[21705,0.199],[21915,0.199],[22125,0.199],[22330,0.199],[22555,0.199],[22765,0.199],[22980,0.199],[23180,0.199],[23180,0.182],
  [20890,0.063],[21105,0.063],[21315,0.063],[21540,0.063],[21750,0.063],[21955,0.063],[22180,0.063],[22390,0.063],[22605,0.063],[22830,0.063],[23040,0.042],[23230,0.061],
  [20790,-0.031],[21000,-0.031],[21205,-0.031],[21430,-0.031],[21640,-0.031],[21855,-0.031],[22065,-0.031],[22290,-0.031],[22500,-0.031],[22725,-0.031],[22930,-0.031],[23150,-0.008],[23350,0.020],[23315,0.118],
  [20730,-0.168],[20940,-0.168],[21165,-0.168],[21375,-0.168],[21580,-0.168],[21790,-0.168],[22015,-0.168],[22230,-0.168],[22440,-0.168],[22665,-0.168],[22875,-0.168],[23080,-0.168],
  [23250,-0.118],[23375,-0.140],[23455,-0.162],[23500,-0.181],[23540,-0.129],[23580,-0.136],[23680,-0.080],[23730,-0.062],[23690,-0.031],[23765,0.037],[23790,0.173],[23850,0.223],[23900,-0.120],[23915,-0.175],[23955,0.162],[24015,0.153],
  [24165,0.220],[24390,0.220],[24605,0.220],[24815,0.220],[25040,0.222],[25080,0.273],
  [24230,0.154],[24440,0.154],[24665,0.154],[24875,0.154],
  [24105,-0.098],[24330,-0.098],[24540,-0.098],[24765,-0.098],[24980,-0.054],
  [24080,-0.163],[24290,-0.163],[24500,-0.163],[24705,-0.163],[24930,-0.163],[25350,-0.174],
  [25515,0.206],[25730,0.206],[25955,0.206],[26165,0.206],[26375,0.206],[26580,0.266],[26500,0.347],[26480,-0.026],
  [25415,-0.063],[25625,-0.063],[25830,-0.063],[26055,-0.063],[26265,-0.063],
  [25565,-0.270],[25790,-0.270],[26000,-0.270],[26215,-0.270],[26430,-0.278],
];

const BLUE = '#2a5899';
const BLUE_ERR = '#8fb1dc';
const RED = '#ae0000';
const RED_ERR = '#e27070';
const GRID_GREY = '#8a8a8a';

function makeMarker(edge: string, inner: string, vertical: boolean) {
  const c = document.createElement('canvas');
  c.width = 16; c.height = 16;
  const ctx = c.getContext('2d')!;
  if (vertical) {
    ctx.strokeStyle = inner; ctx.lineWidth = 2;
    ctx.beginPath(); ctx.moveTo(8, 4.2); ctx.lineTo(8, 11.8); ctx.stroke();
  } else {
    ctx.strokeStyle = inner; ctx.lineWidth = 1.2;
    ctx.beginPath(); ctx.moveTo(6.6, 8); ctx.lineTo(9.4, 8); ctx.stroke();
  }
  ctx.strokeStyle = edge; ctx.lineWidth = 1.9;
  ctx.beginPath(); ctx.arc(8, 8, 4.5, 0, Math.PI * 2); ctx.stroke();
  return c;
}

const fmtY = (v: number) => {
  const s = Math.abs(v) < 1e-9 ? '0.0' : v.toFixed(1);
  return s.replace('-', '\u2212');
};

const framePlugin = {
  id: 'frame',
  afterDatasetsDraw(chart: any) {
    const { ctx, chartArea: a } = chart;
    ctx.save();
    ctx.strokeStyle = '#000';
    ctx.lineWidth = 2;
    ctx.strokeRect(a.left, a.top, a.right - a.left, a.bottom - a.top);
    ctx.restore();
  },
};

function yLabelPlugin(sub: string) {
  return {
    id: 'ylabel-' + sub,
    afterDraw(chart: any) {
      const { ctx, chartArea: a } = chart;
      const size = 25;
      const parts = [
        { t: '\u0394', f: `${size}px ${FONT}`, dy: 0 },
        { t: '\u03b2', f: `italic ${size}px ${FONT}`, dy: 0 },
        { t: sub, f: `italic ${Math.round(size * 0.7)}px ${FONT}`, dy: size * 0.2 },
        { t: '/', f: `${size}px ${FONT}`, dy: 0 },
        { t: '\u03b2', f: `italic ${size}px ${FONT}`, dy: 0 },
        { t: sub, f: `italic ${Math.round(size * 0.7)}px ${FONT}`, dy: size * 0.2 },
      ];
      ctx.save();
      let total = 0;
      const widths = parts.map((p) => { ctx.font = p.f; const w = ctx.measureText(p.t).width; total += w; return w; });
      ctx.translate(40, (a.top + a.bottom) / 2);
      ctx.rotate(-Math.PI / 2);
      ctx.fillStyle = '#000';
      ctx.textBaseline = 'alphabetic';
      ctx.textAlign = 'left';
      let x = -total / 2;
      parts.forEach((p, i) => { ctx.font = p.f; ctx.fillText(p.t, x, p.dy); x += widths[i]; });
      ctx.restore();
    },
  };
}

const legendPlugin = {
  id: 'toplegend',
  afterDraw(chart: any) {
    const { ctx } = chart;
    const items = [
      { x: 193, tx: 243, err: '#6f98d0', edge: BLUE, label: SERIES_NAMES[0] },
      { x: 773, tx: 821, err: '#e5352e', edge: RED, label: SERIES_NAMES[1] },
    ];
    ctx.save();
    items.forEach((it) => {
      ctx.strokeStyle = it.err; ctx.lineWidth = 1.6;
      ctx.beginPath(); ctx.moveTo(it.x, 8); ctx.lineTo(it.x, 40); ctx.stroke();
      ctx.strokeStyle = it.edge; ctx.lineWidth = 1.6;
      ctx.beginPath(); ctx.arc(it.x, 24, 3.2, 0, Math.PI * 2); ctx.stroke();
      ctx.fillStyle = '#000';
      ctx.font = `27.5px ${FONT}`;
      ctx.textBaseline = 'middle';
      ctx.textAlign = 'left';
      ctx.fillText(it.label, it.tx, 25);
    });
    ctx.restore();
  },
};

const toPoints = (arr: number[][]) => arr.map(([x, y]) => ({ x, y }));

function yAxis(min: number, max: number, ticks: number[]) {
  return {
    type: 'linear',
    min, max,
    afterBuildTicks: (s: any) => { s.ticks = ticks.map((v) => ({ value: v })); },
    afterFit: (s: any) => { s.width = 127; },
    ticks: { callback: (v: number) => fmtY(v), padding: 7, color: '#000', font: { family: FONT, size: 25 } },
    grid: { drawOnChartArea: false, drawTicks: true, tickLength: 6, tickWidth: 2, tickColor: '#000' },
    border: { display: false },
  };
}

function ipGrid() {
  return { display: true, drawOnChartArea: true, drawTicks: false, color: GRID_GREY, lineWidth: 2 };
}

function datasets(meas: number[][], sim: number[][], blue: HTMLCanvasElement, red: HTMLCanvasElement) {
  return [
    { label: SERIES_NAMES[1], data: toPoints(sim), pointStyle: red, pointRadius: 5, order: 1 },
    { label: SERIES_NAMES[0], data: toPoints(meas), pointStyle: blue, pointRadius: 5, order: 2 },
  ];
}

export default function App() {
  const topRef = useRef<HTMLCanvasElement>(null);
  const botRef = useRef<HTMLCanvasElement>(null);

  useEffect(() => {
    const blue = makeMarker(BLUE, BLUE_ERR, true);
    const red = makeMarker(RED, RED_ERR, false);

    const top = new Chart(topRef.current!, {
      type: 'scatter',
      data: { datasets: datasets(TOP_MEAS, TOP_SIM, blue, red) as any },
      options: {
        responsive: false,
        animation: false,
        devicePixelRatio: 1,
        layout: { padding: { top: 72, right: 27, left: 0, bottom: 0 } },
        plugins: { legend: { display: false }, tooltip: { enabled: false } },
        scales: {
          x: {
            type: 'linear', position: 'bottom', min: 0, max: RING_LENGTH,
            afterBuildTicks: (s: any) => { s.ticks = IP_POSITIONS.map((v) => ({ value: v })); },
            afterFit: (s: any) => { s.height = 42; },
            ticks: { callback: (_v: any, i: number) => IP_LABELS[i], autoSkip: false, maxRotation: 0, padding: 9, color: '#000', font: { family: FONT, size: 25 } },
            grid: ipGrid(),
            border: { display: false, dash: [2, 2] },
          },
          y: yAxis(-0.35, 0.35, TOP_Y_TICKS),
        } as any,
      },
      plugins: [framePlugin, legendPlugin, yLabelPlugin('x')],
    });

    const bottom = new Chart(botRef.current!, {
      type: 'scatter',
      data: { datasets: datasets(BOTTOM_MEAS, BOTTOM_SIM, blue, red) as any },
      options: {
        responsive: false,
        animation: false,
        devicePixelRatio: 1,
        layout: { padding: { top: 0, right: 27, left: 0, bottom: 0 } },
        plugins: { legend: { display: false }, tooltip: { enabled: false } },
        scales: {
          x: {
            type: 'linear', position: 'bottom', min: 0, max: RING_LENGTH,
            afterBuildTicks: (s: any) => { s.ticks = X_TICKS.map((v) => ({ value: v })); },
            afterFit: (s: any) => { s.height = 71; },
            ticks: { callback: (v: number) => String(v), autoSkip: false, maxRotation: 0, padding: 3, color: '#000', font: { family: FONT, size: 25 } },
            grid: { drawOnChartArea: false, drawTicks: true, tickLength: 5, tickWidth: 2, tickColor: '#000' },
            border: { display: false },
            title: { display: true, text: X_TITLE, color: '#000', font: { family: FONT, size: 25 }, padding: { top: 0, bottom: 3 } },
          },
          x2: {
            type: 'linear', position: 'top', min: 0, max: RING_LENGTH,
            afterBuildTicks: (s: any) => { s.ticks = IP_POSITIONS.map((v) => ({ value: v })); },
            afterFit: (s: any) => { s.height = 2; },
            ticks: { display: false },
            grid: ipGrid(),
            border: { display: false, dash: [2, 2] },
          },
          y: yAxis(-0.4, 0.4, BOTTOM_Y_TICKS),
        } as any,
      },
      plugins: [framePlugin, yLabelPlugin('y')],
    });

    return () => { top.destroy(); bottom.destroy(); };
  }, []);

  return (
    <div style={{ position: 'absolute', left: 0, top: 0, width: 1220, height: 899, background: '#fff' }}>
      <canvas ref={topRef} width={1220} height={470} style={{ position: 'absolute', left: 0, top: 0, width: 1220, height: 470 }} />
      <canvas ref={botRef} width={1220} height={429} style={{ position: 'absolute', left: 0, top: 470, width: 1220, height: 429 }} />
    </div>
  );
}
